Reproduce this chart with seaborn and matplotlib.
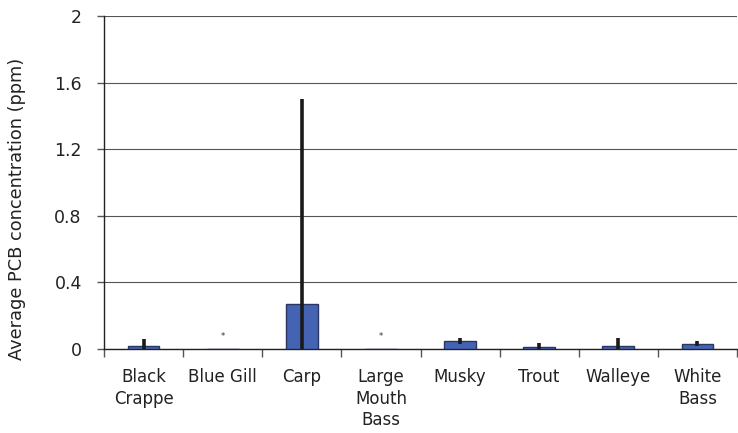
import matplotlib
matplotlib.use("Agg")
import matplotlib.pyplot as plt
import seaborn as sns
import pandas as pd
import numpy as np

categories = ["Black\nCrappe", "Blue Gill", "Carp", "Large\nMouth\nBass", "Musky", "Trout", "Walleye", "White\nBass"]
values = [0.02, 0.0, 0.27, 0.0, 0.05, 0.01, 0.02, 0.032]
errors = [0.04, 0.0, 1.23, 0.0, 0.018, 0.028, 0.048, 0.016]
star_cats = ["Blue Gill", "Large\nMouth\nBass"]
yticks = [0, 0.4, 0.8, 1.2, 1.6, 2]
ytick_labels = ["0", "0.4", "0.8", "1.2", "1.6", "2"]

sns.set_style("white")
plt.rcParams["font.family"] = ["DejaVu Sans"]

df = pd.DataFrame({"cat": categories, "val": values, "err": errors})

fig = plt.figure(figsize=(7.38, 4.33), dpi=100)
ax = fig.add_axes([104/738, 84/433, 633/738, 333/433])

sns.barplot(data=df, x="cat", y="val", ax=ax, color="#4463B3", saturation=1,
            width=0.4, edgecolor="#2a3560", linewidth=1.0, zorder=3)
xs = np.arange(len(categories))
ax.errorbar(xs, df["val"], yerr=df["err"], fmt="none", ecolor="#1a1a1a",
            elinewidth=2.6, capsize=0, zorder=4)
for c in star_cats:
    i = categories.index(c)
    ax.text(i, 0.075, "*", ha="center", va="center", fontsize=6, color="#333333")

ax.set_ylim(0, 2)
ax.set_xlim(-0.5, len(categories) - 0.5)
ax.set_yticks(yticks)
ax.set_yticklabels(ytick_labels)
ax.yaxis.grid(True, color="#555555", linewidth=0.8, zorder=0)
ax.set_axisbelow(True)
ax.set_ylabel("Average PCB concentration (ppm)", fontsize=12.8, color="#222222", va="center")
ax.yaxis.set_label_coords(-0.137, 0.42)
ax.set_xlabel("")
ax.set_xticks(xs)
ax.set_xticklabels(categories, fontsize=12, color="#222222", va="top", linespacing=1.25)
ax.set_xticks(np.arange(-0.5, len(categories), 1.0), minor=True)
ax.tick_params(axis="x", which="major", length=0, pad=14)
ax.tick_params(axis="x", which="minor", length=6, width=1, color="#555555", direction="out", bottom=True)
ax.tick_params(axis="y", which="major", length=5, width=1, color="#555555", direction="out", left=True,
               labelsize=12.5, labelcolor="#222222", pad=11)
for s in ["top", "right"]:
    ax.spines[s].set_visible(False)
ax.spines["left"].set_color("#222222")
ax.spines["bottom"].set_color("#222222")
ax.spines["left"].set_linewidth(1.0)
ax.spines["bottom"].set_linewidth(1.0)

fig.savefig("out.png", dpi=100)
